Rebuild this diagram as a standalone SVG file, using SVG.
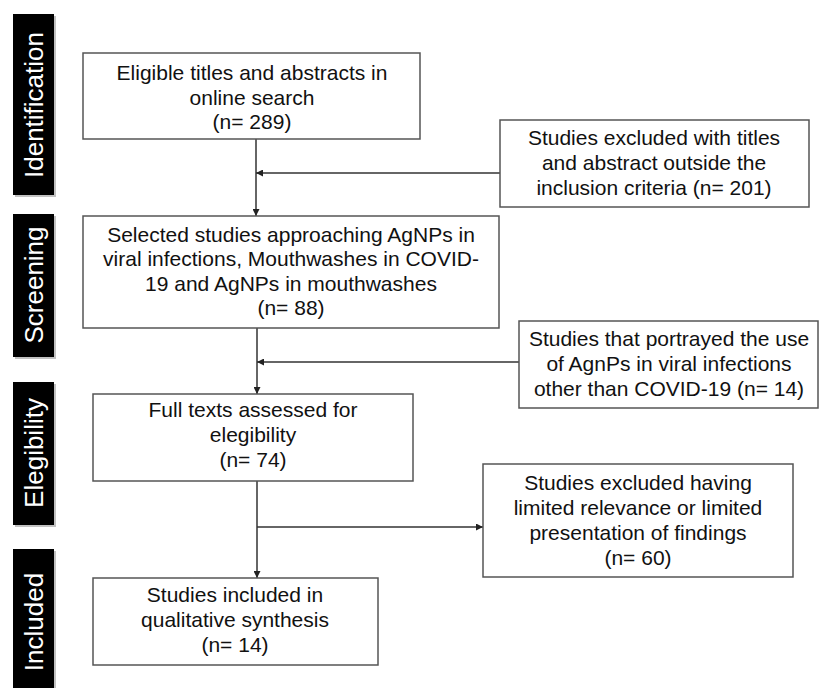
<svg xmlns="http://www.w3.org/2000/svg" width="821" height="688" viewBox="0 0 821 688">
<style>
.box{fill:#fff;stroke:#555;stroke-width:1.5}
.t{font-family:"Liberation Sans",Arial,sans-serif;font-size:21px;fill:#111;text-anchor:middle}
.side{fill:#000}
.sh{fill:#999;opacity:0.6}
.st{font-family:"Liberation Sans",Arial,sans-serif;font-size:26px;fill:#fff;text-anchor:middle}
.c{stroke:#333;stroke-width:1.5;fill:none;marker-end:url(#ah)}
</style>
<defs>
<marker id="ah" viewBox="0 0 10 10" refX="10" refY="5" markerWidth="7" markerHeight="7" markerUnits="userSpaceOnUse" orient="auto">
<path d="M0,0 L10,5 L0,10 z" fill="#222"/>
</marker>
</defs>
<rect width="821" height="688" fill="#fff"/>
<g id="phase-identification">
<rect class="sh" x="15" y="16" width="41" height="181"/>
<rect class="side" x="13" y="14" width="41" height="181"/>
<text class="st" transform="translate(43,105) rotate(-90)">Identification</text>
</g>
<g id="phase-screening">
<rect class="sh" x="15" y="216" width="41" height="143"/>
<rect class="side" x="13" y="214" width="41" height="143"/>
<text class="st" transform="translate(43,285) rotate(-90)">Screening</text>
</g>
<g id="phase-elegibility">
<rect class="sh" x="15" y="384" width="41" height="143"/>
<rect class="side" x="13" y="382" width="41" height="143"/>
<text class="st" transform="translate(43,453) rotate(-90)">Elegibility</text>
</g>
<g id="phase-included">
<rect class="sh" x="15" y="551" width="41" height="150"/>
<rect class="side" x="13" y="549" width="41" height="150"/>
<text class="st" transform="translate(43,622) rotate(-90)">Included</text>
</g>
<g id="connectors">
<path class="c" d="M256,139 L256,216"/>
<path class="c" d="M500,173 L256,173"/>
<path class="c" d="M257,328 L257,394"/>
<path class="c" d="M519,362 L257,362"/>
<path class="c" d="M257,481 L257,578"/>
<path class="c" d="M257,527 L483,527"/>
</g>
<g id="box-identified">
<rect class="box" x="83" y="53" width="337" height="86"/>
<text class="t" x="252" y="80">Eligible titles and abstracts in</text>
<text class="t" x="252" y="104.5">online search</text>
<text class="t" x="252" y="129">(n= 289)</text>
</g>
<g id="box-excluded-titles">
<rect class="box" x="500" y="120" width="309" height="87"/>
<text class="t" x="654" y="145">Studies excluded with titles</text>
<text class="t" x="654" y="170">and abstract outside the</text>
<text class="t" x="654" y="195">inclusion criteria (n= 201)</text>
</g>
<g id="box-screened">
<rect class="box" x="83" y="216" width="416" height="112"/>
<text class="t" x="291" y="241.5">Selected studies approaching AgNPs in</text>
<text class="t" x="291" y="266">viral infections, Mouthwashes in COVID-</text>
<text class="t" x="291" y="290.5">19 and AgNPs in mouthwashes</text>
<text class="t" x="291" y="315">(n= 88)</text>
</g>
<g id="box-excluded-other">
<rect class="box" x="519" y="321" width="299" height="87"/>
<text class="t" x="669" y="346">Studies that portrayed the use</text>
<text class="t" x="669" y="371">of AgnPs in viral infections</text>
<text class="t" x="669" y="396">other than COVID-19 (n= 14)</text>
</g>
<g id="box-eligibility">
<rect class="box" x="93" y="394" width="320" height="87"/>
<text class="t" x="253" y="417">Full texts assessed for</text>
<text class="t" x="253" y="442">elegibility</text>
<text class="t" x="253" y="467">(n= 74)</text>
</g>
<g id="box-excluded-relevance">
<rect class="box" x="483" y="464" width="310" height="113"/>
<text class="t" x="638" y="490">Studies excluded having</text>
<text class="t" x="638" y="515">limited relevance or limited</text>
<text class="t" x="638" y="540">presentation of findings</text>
<text class="t" x="638" y="565">(n= 60)</text>
</g>
<g id="box-included">
<rect class="box" x="93" y="578" width="285" height="87"/>
<text class="t" x="235" y="602">Studies included in</text>
<text class="t" x="235" y="627">qualitative synthesis</text>
<text class="t" x="235" y="652">(n= 14)</text>
</g>
</svg>
